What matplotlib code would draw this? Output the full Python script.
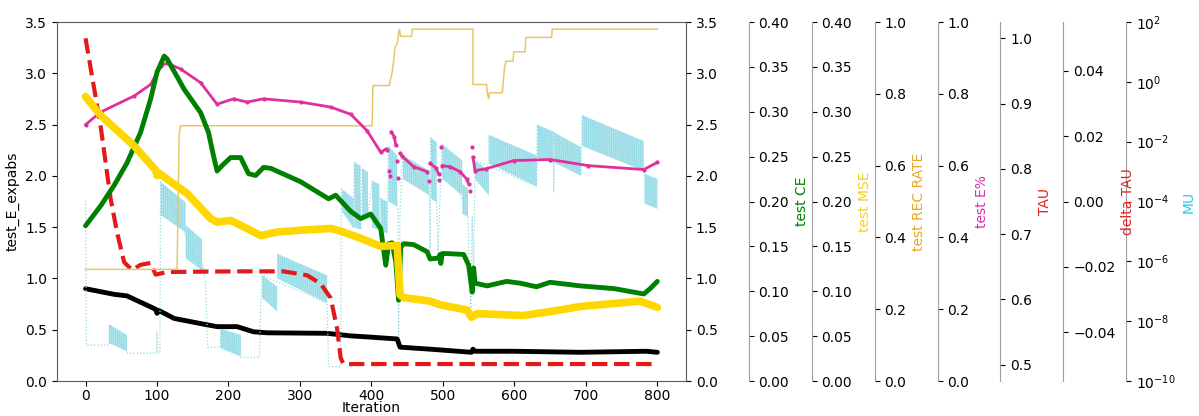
import matplotlib
matplotlib.use("Agg")
import matplotlib.pyplot as plt
import numpy as np
from matplotlib.ticker import FixedLocator, NullLocator, LogFormatterMathtext

nan = np.nan

# test_E_expabs (left axis)
expabs_iter = [0, 40, 58, 98, 100, 102, 124, 161, 184, 212, 235, 254, 338, 371, 394, 436, 440, 483, 540, 542, 545, 599, 692, 785, 800]
expabs_val = [0.90, 0.845, 0.83, 0.70, 0.66, 0.69, 0.61, 0.56, 0.53, 0.53, 0.48, 0.47, 0.465, 0.44, 0.43, 0.41, 0.33, 0.31, 0.28, 0.31, 0.29, 0.29, 0.28, 0.29, 0.28]

# test CE
ce_iter = [0, 21, 40, 58, 77, 91, 100, 110, 114, 138, 161, 172, 179, 184, 191, 203, 217, 228, 238, 249, 259, 301, 340, 350,
           371, 385, 399, 413, 420, 424, 429, 434, 438, 441, 445, 459, 478, 482, 494, 496, 497, 499, 506, 529, 536, 541,
           543, 545, 562, 589, 608, 631, 650, 692, 739, 781, 790, 800]
ce_val = [0.173, 0.195, 0.218, 0.243, 0.277, 0.314, 0.344, 0.362, 0.359, 0.325, 0.299, 0.277, 0.251, 0.234, 0.240, 0.249,
          0.249, 0.231, 0.229, 0.238, 0.237, 0.222, 0.203, 0.207, 0.189, 0.181, 0.186, 0.170, 0.129, 0.153, 0.154, 0.133,
          0.090, 0.149, 0.153, 0.152, 0.144, 0.136, 0.137, 0.141, 0.131, 0.142, 0.142, 0.141, 0.129, 0.099, 0.126, 0.109,
          0.106, 0.111, 0.109, 0.105, 0.110, 0.106, 0.103, 0.097, 0.103, 0.111]

# test MSE
mse_iter = [0, 21, 68, 98, 100, 102, 142, 175, 184, 203, 226, 245, 268, 301, 343, 357, 385, 413, 436, 440, 445, 482, 496,
            534, 540, 548, 613, 655, 692, 776, 800]
mse_val = [0.317, 0.296, 0.262, 0.235, 0.229, 0.232, 0.209, 0.181, 0.177, 0.179, 0.170, 0.162, 0.166, 0.168, 0.170, 0.167,
           0.159, 0.150, 0.151, 0.096, 0.093, 0.089, 0.085, 0.079, 0.071, 0.075, 0.073, 0.078, 0.083, 0.089, 0.082]

# test REC RATE
rec_iter = [0, 128, 131, 133, 401, 402, 425, 429, 431, 433, 436, 439, 441, 456, 457, 542, 542, 561, 562, 564, 565, 583,
            586, 588, 598, 599, 615, 616, 652, 653, 800]
rec_val = [0.311, 0.311, 0.686, 0.711, 0.711, 0.823, 0.823, 0.86, 0.89, 0.93, 0.94, 0.98, 0.96, 0.96, 0.98, 0.98, 0.826,
           0.826, 0.803, 0.786, 0.803, 0.803, 0.869, 0.891, 0.891, 0.917, 0.917, 0.957, 0.957, 0.98, 0.98]

# test E% (gaps where the value jumps between iterations)
epct_iter = [0, 21, 68, 91, 105, 114, 133, 161, 184, 207, 226, 249, 301, 343, 371, 394, 413, 420, 422, 423, 424, 425, 426,
             427, 428, 432, 434, 435, 436, 437, 437, 438, 440, 443, 459, 478, 479, 480, 481, 482, 490, 494, 494, 495, 496,
             497, 498, 499, 510, 524, 533, 536, 537, 538, 539, 540, 541, 542, 545, 560, 599, 650, 703, 781, 800]
epct_val = [0.714, 0.749, 0.794, 0.826, 0.877, 0.886, 0.869, 0.831, 0.771, 0.786, 0.777, 0.786, 0.777, 0.763, 0.743, 0.697,
            0.637, 0.646, 0.643, nan, 0.586, nan, 0.571, nan, 0.694, 0.680, 0.657, nan, 0.614, nan, 0.566, nan, 0.634,
            0.626, 0.597, 0.583, nan, 0.557, nan, 0.606, 0.594, 0.577, nan, 0.560, nan, 0.651, nan, 0.600, 0.597, 0.583,
            0.563, 0.549, nan, 0.529, nan, 0.651, nan, 0.623, 0.586, 0.591, 0.614, 0.617, 0.600, 0.589, 0.609]

# TAU
tau_iter = [0, 21, 35, 44, 54, 65, 77, 91, 98, 114, 207, 277, 310, 329, 343, 352, 357, 361, 800]
tau_val = [1.0, 0.866, 0.755, 0.703, 0.657, 0.645, 0.653, 0.656, 0.638, 0.642, 0.643, 0.643, 0.637, 0.624, 0.602, 0.555,
           0.510, 0.501, 0.501]

# MU: the value flips between two levels every iteration, so each run is
# given by its first/last iteration and the log10 of the upper and lower level
mu_block_start = [33, 105, 140, 189, 247, 268, 359, 376, 387, 401, 413, 424, 444, 483, 499, 527, 545, 564, 632, 656, 695, 782]
mu_block_end = [58, 140, 163, 217, 268, 338, 375, 385, 395, 411, 422, 436, 481, 491, 527, 535, 564, 631, 655, 693, 781, 800]
mu_top_start = [-8.11, -3.35, -4.79, -8.25, -6.47, -5.75, -3.59, -2.70, -2.90, -3.31, -3.90, -2.15, -2.46, -1.87, -2.08,
                -3.42, -2.63, -1.77, -1.43, -1.70, -1.12, -3.07]
mu_top_end = [-8.46, -4.03, -5.27, -8.46, -6.85, -6.47, -3.90, -2.80, -3.01, -3.42, -4.00, -2.46, -2.97, -2.01, -2.63,
              -3.55, -2.97, -2.46, -1.67, -2.18, -1.98, -3.25]
mu_bottom_start = [-8.73, -4.45, -5.89, -8.90, -7.22, -6.57, -4.34, -4.86, -4.45, -4.86, -5.00, -4.00, -3.25, -3.90, -3.25,
                   -4.41, -3.25, -2.73, -2.53, -2.70, -2.15, -4.07]
mu_bottom_end = [-9.01, -5.03, -6.30, -9.18, -7.67, -7.39, -4.89, -4.93, -4.51, -4.96, -5.06, -4.17, -3.79, -4.03, -3.79,
                 -4.51, -3.79, -3.49, -2.73, -3.14, -2.97, -4.24]
# connecting trace between runs
mu_trace_iter = [0, 1, 33, 33, 58, 58, 99, 100, 101, 104, 105, 163, 165, 168, 171, 189, 189, 217, 218, 243, 245, 247,
                 338, 340, 357, 358, 375, 376, 385, 387, 395, 401, 411, 413, 422, 424, 436, 437, 438, 440, 444, 481, 482,
                 483, 491, 493, 499, 535, 537, 539, 541, 543, 545, 631, 632, 655, 655, 656, 693, 695, 781, 782, 800]
mu_trace_log10 = [-3.97, -8.80, -8.80, -8.11, -9.01, -9.07, -9.07, -8.35, -9.07, -9.07, -3.35, -6.30, -6.13, -6.85, -8.87,
                  -8.87, -8.25, -9.18, -9.21, -9.21, -7.53, -6.47, -7.39, -9.52, -9.52, -3.59, -4.89, -2.70, -4.93, -2.90,
                  -4.51, -3.31, -4.96, -3.90, -5.06, -2.15, -4.17, -4.34, -8.46, -4.34, -2.46, -3.79, -5.68, -1.87, -4.03,
                  -5.65, -2.08, -4.51, -6.50, -7.57, -4.50, -6.60, -2.63, -3.49, -1.43, -2.73, -3.69, -1.70, -3.14, -1.12,
                  -2.97, -3.07, -4.24]

SPINE_GREY = "0.62"
MU_COLOR = "#8fd9e4"

plt.rcParams["hatch.linewidth"] = 0.5


def add_axis(host, offset, label, color, zorder):
    twin = host.twinx()
    twin.set_zorder(zorder)
    twin.spines["right"].set_position(("axes", offset))
    twin.spines["right"].set_color(SPINE_GREY)
    for side in ("left", "top", "bottom"):
        twin.spines[side].set_visible(False)
    twin.tick_params(axis="y", colors="black")
    twin.set_ylabel(label, color=color)
    return twin


def main() -> None:
    fig = plt.figure(figsize=(11.99, 4.16), dpi=100)
    ax = fig.add_axes([0.0475, 0.0841, 0.5246, 0.863])
    for spine in ax.spines.values():
        spine.set_color("0.35")

    mu_ax = add_axis(ax, 1.7, "MU", "#38c3df", 1)
    tau_ax = add_axis(ax, 1.5, "TAU", "#e0201c", 2)
    dtau_ax = add_axis(ax, 1.6, "delta TAU", "#e0201c", 3)
    rec_ax = add_axis(ax, 1.3, "test REC RATE", "#e8a825", 4)
    epct_ax = add_axis(ax, 1.4, "test E%", "#d92fb5", 5)
    ce_ax = add_axis(ax, 1.1, "test CE", "green", 6)
    mse_ax = add_axis(ax, 1.2, "test MSE", "#f2d21b", 7)

    # MU runs and the trace linking them
    mu_ax.set_yscale("log")
    mu_ax.plot(mu_trace_iter, 10.0 ** np.asarray(mu_trace_log10), ls=":", lw=0.9, color=MU_COLOR)
    for x0, x1, t0, t1, b0, b1 in zip(mu_block_start, mu_block_end, mu_top_start, mu_top_end,
                                      mu_bottom_start, mu_bottom_end):
        mu_ax.fill_between([x0, x1], 10.0 ** np.array([b0, b1]), 10.0 ** np.array([t0, t1]),
                           facecolor="#ade4ec", edgecolor=MU_COLOR, hatch="||||||||", linewidth=0)
    mu_ax.set_ylim(1e-10, 1e2)
    mu_ax.yaxis.set_major_locator(FixedLocator([10.0 ** k for k in range(-10, 3, 2)]))
    mu_ax.yaxis.set_major_formatter(LogFormatterMathtext())
    mu_ax.yaxis.set_minor_locator(NullLocator())

    tau_ax.plot(tau_iter, tau_val, color="#e31a1c", lw=3, ls="--")
    tau_ax.set_ylim(0.475, 1.025)

    dtau_ax.set_ylim(-0.055, 0.055)

    rec_ax.plot(rec_iter, rec_val, color="#e9c66a", lw=1.1)
    rec_ax.set_ylim(0, 1.0)

    epct_ax.plot(epct_iter, epct_val, color="#e0309c", lw=2, marker=".", ms=4)
    epct_ax.set_ylim(0, 1.0)

    ce_ax.plot(ce_iter, ce_val, color="green", lw=3.5, solid_capstyle="round")
    ce_ax.set_ylim(0, 0.4)

    mse_ax.plot(mse_iter, mse_val, color="#ffd700", lw=5.5, solid_capstyle="round")
    mse_ax.set_ylim(0, 0.4)

    ax.plot(expabs_iter, expabs_val, color="black", lw=3.5, solid_capstyle="round")
    ax.set_ylim(0, 3.5)
    ax.set_xlim(-40, 840)
    ax.tick_params(axis="y", right=True, labelright=True)
    ax.tick_params(axis="x", pad=2.5)
    ax.set_xlabel("Iteration")
    ax.xaxis.set_label_coords(0.5, -0.056)
    ax.set_ylabel("test_E_expabs")

    fig.savefig("out.png", dpi=100)
    plt.close(fig)


if __name__ == "__main__":
    main()
